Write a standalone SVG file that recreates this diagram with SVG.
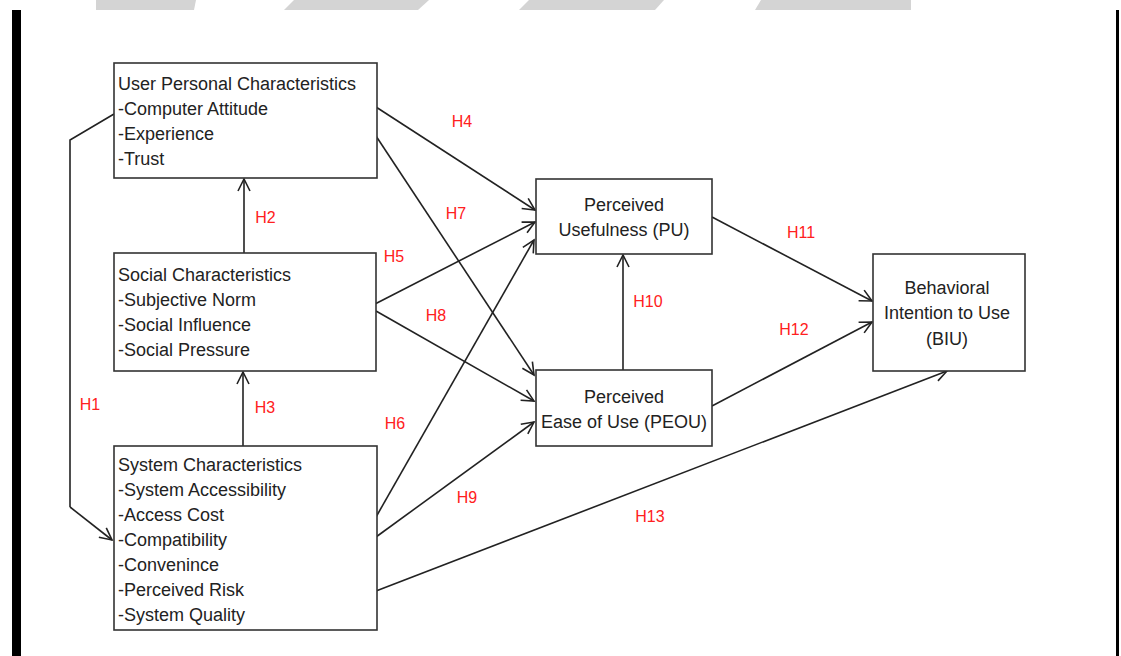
<svg xmlns="http://www.w3.org/2000/svg" width="1121" height="656" viewBox="0 0 1121 656">
<style>
.box{fill:#fff;stroke:#333;stroke-width:1.6}
.t{font-family:"Liberation Sans",Arial,sans-serif;font-size:18px;fill:#222}
.c{text-anchor:middle}
.lbl{font-family:"Liberation Sans",Arial,sans-serif;font-size:16px;fill:#ff2020;text-anchor:middle}
.ln{fill:none;stroke:#222;stroke-width:1.6;marker-end:url(#arr)}
.pl{fill:none;stroke:#222;stroke-width:1.6}
</style>
<defs>
<marker id="arr" markerUnits="userSpaceOnUse" markerWidth="16" markerHeight="16" viewBox="-13 -8 16 16" refX="0" refY="0" orient="auto">
<path d="M-12,-6 L0,0 L-12,6" fill="none" stroke="#222" stroke-width="1.6"/>
</marker>
</defs>
<rect width="1121" height="656" fill="#fff"/>
<g id="banner" fill="#d4d4d4">
<polygon points="96,0 196,0 194,10 96,10"/>
<polygon points="294,0 429,0 418,10 284,10"/>
<polygon points="529,0 664,0 655,10 519,10"/>
<polygon points="761,0 911,0 911,10 755,10"/>
</g>
<rect x="12" y="10" width="9" height="646" fill="#000"/>
<rect x="1116" y="10" width="3" height="646" fill="#000"/>
<g id="connectors">
<polyline class="pl" points="114,114 70,140 70,507"/>
<line class="ln" x1="70" y1="507" x2="112" y2="540"/>
<line class="ln" x1="244" y1="253" x2="244" y2="179"/>
<line class="ln" x1="243" y1="446" x2="243" y2="372"/>
<line class="ln" x1="376" y1="107" x2="535" y2="210"/>
<line class="ln" x1="376" y1="136" x2="534" y2="375"/>
<line class="ln" x1="375" y1="304" x2="535" y2="222"/>
<line class="ln" x1="376" y1="517" x2="534" y2="240"/>
<line class="ln" x1="376" y1="311" x2="534" y2="401"/>
<line class="ln" x1="376" y1="537" x2="534" y2="422"/>
<line class="ln" x1="623" y1="370" x2="623" y2="255"/>
<line class="ln" x1="712" y1="217" x2="872" y2="301"/>
<line class="ln" x1="712" y1="406" x2="872" y2="322"/>
<line class="ln" x1="376" y1="591" x2="947" y2="371"/>
</g>
<g id="labels">
<text class="lbl" x="90" y="410">H1</text>
<text class="lbl" x="265.5" y="223">H2</text>
<text class="lbl" x="265" y="413">H3</text>
<text class="lbl" x="462" y="127">H4</text>
<text class="lbl" x="394" y="262">H5</text>
<text class="lbl" x="395" y="429">H6</text>
<text class="lbl" x="456" y="219">H7</text>
<text class="lbl" x="436" y="321">H8</text>
<text class="lbl" x="467" y="503">H9</text>
<text class="lbl" x="648" y="307">H10</text>
<text class="lbl" x="801" y="238">H11</text>
<text class="lbl" x="794" y="335">H12</text>
<text class="lbl" x="650" y="522">H13</text>
</g>
<g id="upc">
<rect class="box" x="114" y="63" width="263" height="115"/>
<text class="t" x="118" y="90">User Personal Characteristics</text>
<text class="t" x="118" y="115">-Computer Attitude</text>
<text class="t" x="118" y="140">-Experience</text>
<text class="t" x="118" y="165">-Trust</text>
</g>
<g id="sc">
<rect class="box" x="114" y="253" width="262" height="118"/>
<text class="t" x="118" y="281">Social Characteristics</text>
<text class="t" x="118" y="306">-Subjective Norm</text>
<text class="t" x="118" y="331">-Social Influence</text>
<text class="t" x="118" y="356">-Social Pressure</text>
</g>
<g id="sys">
<rect class="box" x="114" y="446" width="263" height="184"/>
<text class="t" x="118" y="471">System Characteristics</text>
<text class="t" x="118" y="496">-System Accessibility</text>
<text class="t" x="118" y="521">-Access Cost</text>
<text class="t" x="118" y="546">-Compatibility</text>
<text class="t" x="118" y="571">-Convenince</text>
<text class="t" x="118" y="596">-Perceived Risk</text>
<text class="t" x="118" y="621">-System Quality</text>
</g>
<g id="pu">
<rect class="box" x="536" y="179" width="176" height="75"/>
<text class="t c" x="624" y="211">Perceived</text>
<text class="t c" x="624" y="236">Usefulness (PU)</text>
</g>
<g id="peou">
<rect class="box" x="536" y="370" width="176" height="76"/>
<text class="t c" x="624" y="403">Perceived</text>
<text class="t c" x="624" y="428">Ease of Use (PEOU)</text>
</g>
<g id="biu">
<rect class="box" x="873" y="254" width="152" height="117"/>
<text class="t c" x="947" y="294">Behavioral</text>
<text class="t c" x="947" y="319">Intention to Use</text>
<text class="t c" x="947" y="345">(BIU)</text>
</g>
</svg>
